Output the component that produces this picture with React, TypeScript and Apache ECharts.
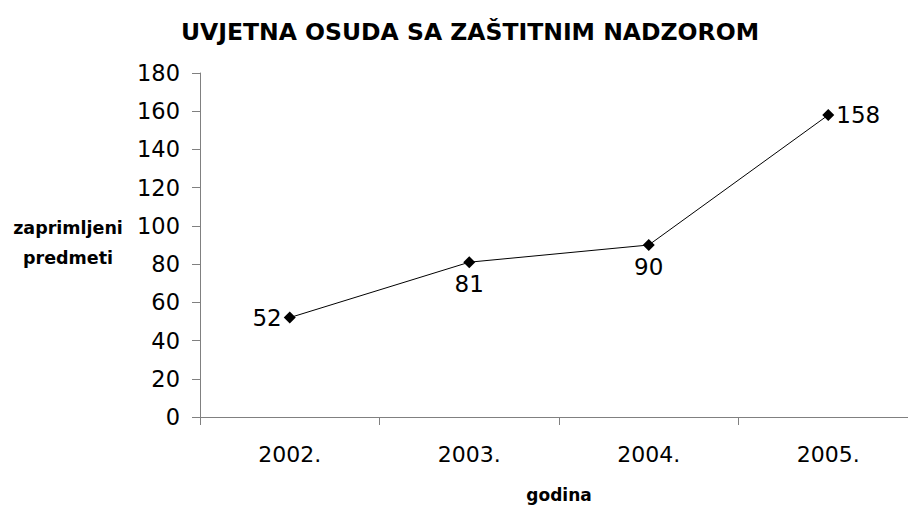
import React, { useEffect, useRef } from "react";
import * as echarts from "echarts";

const categories = ["2002.", "2003.", "2004.", "2005."];
const values = [52, 81, 90, 158];
const labelPositions = ["left", "bottom", "bottom", "right"];
const yAxisName = ["zaprimljeni", "predmeti"];
const xAxisName = "godina";
const titleText = "UVJETNA OSUDA SA ZAŠTITNIM NADZOROM";

export default function App() {
  const ref = useRef<HTMLDivElement>(null);
  useEffect(() => {
    const chart = echarts.init(ref.current!, null, { renderer: "svg" });
    const font = "'DejaVu Sans', sans-serif";
    chart.setOption({
      animation: false,
      backgroundColor: "#ffffff",
      title: {
        text: titleText,
        left: 465,
        top: 15,
        textAlign: "center",
        textStyle: { fontFamily: font, fontWeight: "bold", fontSize: 23.5, color: "#000" },
      },
      grid: { left: 200, top: 73, width: 718, height: 344, outerBoundsMode: "none", containLabel: false },
      xAxis: {
        type: "category",
        data: categories,
        boundaryGap: true,
        axisLine: { lineStyle: { color: "#808080", width: 1 } },
        axisTick: { show: true, length: 8, inside: false, lineStyle: { color: "#808080" } },
        axisLabel: { fontFamily: font, fontSize: 22, color: "#000", margin: 26 },
        name: xAxisName,
        nameLocation: "middle",
        nameGap: 69,
        nameTextStyle: { fontFamily: font, fontWeight: "bold", fontSize: 17, color: "#000" },
      },
      yAxis: {
        type: "value",
        min: 0,
        max: 180,
        interval: 20,
        splitLine: { show: false },
        axisLine: { show: true, lineStyle: { color: "#808080", width: 1 } },
        axisTick: { show: true, length: 8, lineStyle: { color: "#808080" } },
        axisLabel: { fontFamily: font, fontSize: 22.5, color: "#000", margin: 20 },
      },
      graphic: [
        {
          type: "text",
          x: 68,
          y: 243,
          style: {
            text: yAxisName.join("\n"),
            fontFamily: font,
            fontWeight: "bold",
            fontSize: 17.5,
            lineHeight: 30,
            fill: "#000",
            align: "center",
            verticalAlign: "middle",
          },
        },
      ],
      series: [
        {
          type: "line",
          data: values.map((v, i) => ({
            value: v,
            label: {
              position: labelPositions[i],
              distance: labelPositions[i] === "bottom" ? 4 : 2,
            },
          })),
          symbol: "diamond",
          symbolSize: 12,
          itemStyle: { color: "#000" },
          lineStyle: { color: "#000", width: 1 },
          label: {
            show: true,
            fontFamily: font,
            fontSize: 23,
            color: "#000",
          },
        },
      ],
    });
    return () => chart.dispose();
  }, []);
  return <div ref={ref} style={{ width: 908, height: 507, position: "absolute", left: 0, top: 0 }} />;
}
